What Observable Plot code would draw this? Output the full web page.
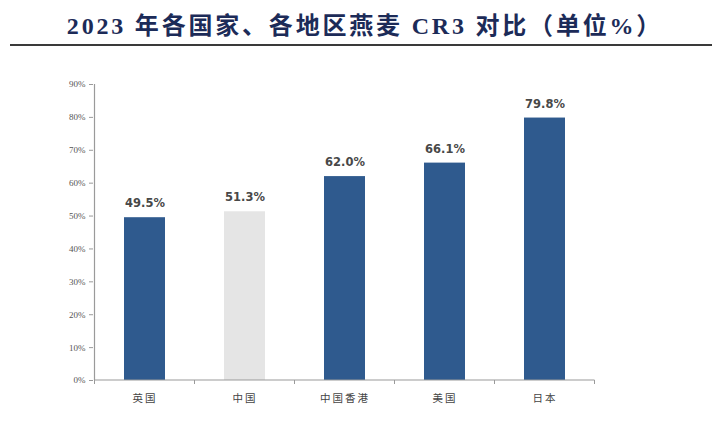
<!DOCTYPE html>
<html><head><meta charset="utf-8">
<script src="https://cdn.jsdelivr.net/npm/d3@7"></script>
<script src="https://cdn.jsdelivr.net/npm/@observablehq/plot@0.6"></script>
<style>
body{margin:0;background:#fff;width:712px;height:435px;overflow:hidden;}
#title{height:50px;position:relative;}
#title .t{position:absolute;left:0;width:730px;top:6px;text-align:center;font-family:"Liberation Serif","Noto Sans CJK SC",serif;font-weight:bold;font-size:24px;color:#1c2b58;letter-spacing:2.8px;}
#title .line{position:absolute;left:10px;right:0;top:44px;height:2px;background:#3a3a3a;}
</style></head>
<body>
<div id="title"><div class="t">2023 年各国家、各地区燕麦 CR3 对比（单位%）</div><div class="line"></div></div>
<div id="chart"></div>
<script>
const categories = ["英国","中国","中国香港","美国","日本"];
const values = [49.5, 51.3, 62.0, 66.1, 79.8];
const colors = ["#2f5a8e","#e5e5e5","#2f5a8e","#2f5a8e","#2f5a8e"];
const yTicks = [0,10,20,30,40,50,60,70,80,90];

const data = categories.map((c,i)=>({cat:c, v:values[i], color:colors[i]}));

const chart = Plot.plot({
  width:712, height:385,
  marginTop:34, marginBottom:55, marginLeft:93, marginRight:117,
  style:{fontFamily:"'Noto Sans CJK SC', sans-serif", background:"#fff"},
  x:{domain:categories, paddingInner:0.59, paddingOuter:0.295, label:null},
  y:{domain:[0,90], label:null},
  marks:[
    Plot.barY(data,{x:"cat", y:"v", fill:"color"}),
    Plot.axisY({ticks:yTicks, tickFormat:d=>d+"%", tickSize:4, tickPadding:4, stroke:"#9a9a9a", fill:"#555", fontSize:9, fontFamily:"Liberation Serif", label:null}),
    Plot.axisX({tickSize:0, tickPadding:14, fill:"#444", fontSize:10.5, label:null}),
    Plot.text(data,{x:"cat", y:"v", text:d=>d.v.toFixed(1)+"%", dy:-14, fill:"#484848", fontSize:11.5, fontWeight:"bold", fontFamily:"DejaVu Sans"})
  ]
});
document.getElementById("chart").appendChild(chart);

const xs = chart.scale("x");
const ys = chart.scale("y");
const svg = d3.select(chart);
const gap = (xs.step - xs.bandwidth)/2;
const bounds = categories.map(c=>xs.apply(c) - gap);
bounds.push(xs.apply(categories[categories.length-1]) + xs.bandwidth + gap);
const y0 = ys.apply(0), y90 = ys.apply(90);
svg.append("g").selectAll("line").data(bounds).join("line")
  .attr("x1",d=>d).attr("x2",d=>d).attr("y1",y0).attr("y2",y0+4)
  .attr("stroke","#9a9a9a");
svg.append("line").attr("x1",bounds[0]).attr("x2",bounds[bounds.length-1]).attr("y1",y0).attr("y2",y0).attr("stroke","#9a9a9a").attr("stroke-width",1.2);
svg.append("line").attr("x1",bounds[0]).attr("x2",bounds[0]).attr("y1",y0).attr("y2",y90).attr("stroke","#9a9a9a").attr("stroke-width",1.2);
svg.selectAll("[aria-label='x-axis tick label'] text").style("letter-spacing","2px");
</script>
</body></html>
